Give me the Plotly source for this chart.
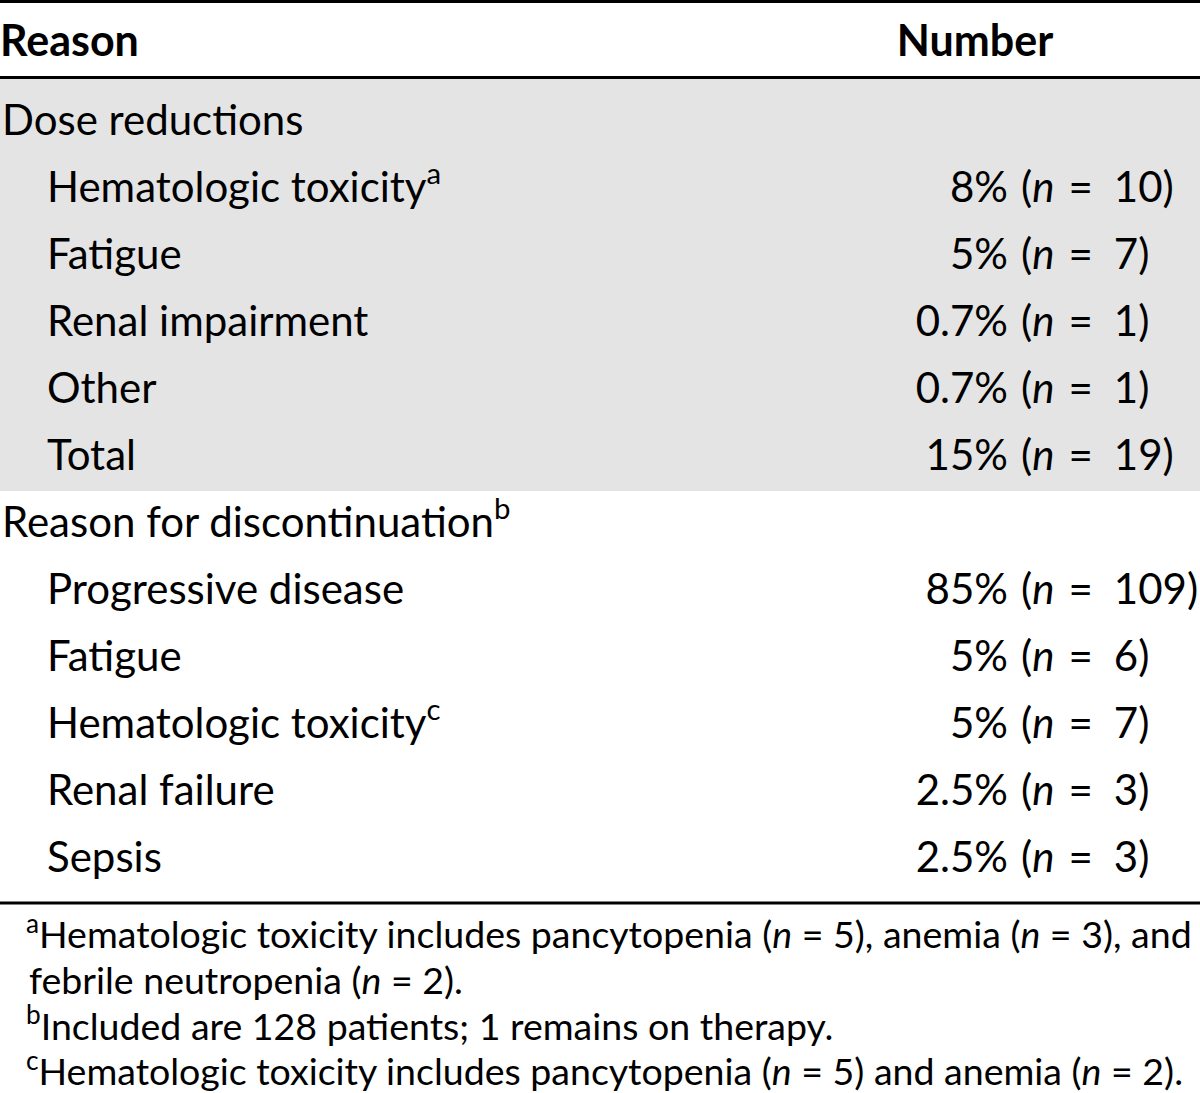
import plotly.graph_objects as go

# ---------------- data ----------------
header_labels = ["Reason", "Number"]

section1_title = "Dose reductions"
section1_labels = ["Hematologic toxicity<sup>a</sup>", "Fatigue", "Renal impairment", "Other", "Total"]
section1_pct = ["8%", "5%", "0.7%", "0.7%", "15%"]
section1_n = [10, 7, 1, 1, 19]

section2_title = "Reason for discontinuation<sup>b</sup>"
section2_labels = ["Progressive disease", "Fatigue", "Hematologic toxicity<sup>c</sup>", "Renal failure", "Sepsis"]
section2_pct = ["85%", "5%", "5%", "2.5%", "2.5%"]
section2_n = [109, 6, 7, 3, 3]

footnotes = [
    "<sup>a</sup>Hematologic toxicity includes pancytopenia (<i>n</i> = 5), anemia (<i>n</i> = 3), and",
    "febrile neutropenia (<i>n</i> = 2).",
    "<sup>b</sup>Included are 128 patients; 1 remains on therapy.",
    "<sup>c</sup>Hematologic toxicity includes pancytopenia (<i>n</i> = 5) and anemia (<i>n</i> = 2).",
]

# ---------------- layout constants ----------------
W, H = 1200, 1093
FONT = "Lato, 'Open Sans', sans-serif"
BODY = 42
HEAD = 43
FOOT = 37.5
ROW0_Y = 124
PITCH = 67
HEADER_Y = 45
X_SECTION = 2
X_ITEM = 47
X_PCT_END = 1008
X_N_START = 1021
FOOT_Y0 = 939
FOOT_PITCH = 45.7
SP1 = "\u2004"
SP2 = "\u2002"

# build rows from the data
row_labels, row_x, row_pct, row_n = [], [], [], []
for title, labels, pcts, ns in [
    (section1_title, section1_labels, section1_pct, section1_n),
    (section2_title, section2_labels, section2_pct, section2_n),
]:
    row_labels.append(title); row_x.append(X_SECTION); row_pct.append(""); row_n.append(None)
    for lab, p, n in zip(labels, pcts, ns):
        row_labels.append(lab); row_x.append(X_ITEM); row_pct.append(p); row_n.append(n)

row_y = [ROW0_Y + i * PITCH for i in range(len(row_labels))]
n_text = ["" if n is None else f"(<i>n</i>{SP1}={SP2}{n})" for n in row_n]

fig = go.Figure()

# header
fig.add_trace(go.Scatter(
    x=[0], y=[HEADER_Y], text=[f"<b>{header_labels[0]}</b>"], mode="text",
    textposition="middle right", textfont=dict(family=FONT, size=HEAD, color="black"),
    hoverinfo="skip", showlegend=False))
fig.add_trace(go.Scatter(
    x=[975], y=[HEADER_Y], text=[f"<b>{header_labels[1]}</b>"], mode="text",
    textposition="middle center", textfont=dict(family=FONT, size=HEAD, color="black"),
    hoverinfo="skip", showlegend=False))

# row labels
fig.add_trace(go.Scatter(
    x=row_x, y=row_y, text=row_labels, mode="text", textposition="middle right",
    textfont=dict(family=FONT, size=BODY, color="black"), hoverinfo="skip", showlegend=False))
# percentages (right aligned)
fig.add_trace(go.Scatter(
    x=[X_PCT_END] * len(row_y), y=row_y, text=row_pct, mode="text", textposition="middle left",
    textfont=dict(family=FONT, size=BODY, color="black"), hoverinfo="skip", showlegend=False))
# (n = x) part
fig.add_trace(go.Scatter(
    x=[X_N_START] * len(row_y), y=row_y, text=n_text, mode="text", textposition="middle right",
    textfont=dict(family=FONT, size=BODY, color="black"), hoverinfo="skip", showlegend=False))

# footnotes
foot_x = [26, 29, 26, 26]
fig.add_trace(go.Scatter(
    x=foot_x, y=[FOOT_Y0 + j * FOOT_PITCH for j in range(len(footnotes))], text=footnotes,
    mode="text", textposition="middle right",
    textfont=dict(family=FONT, size=FOOT, color="black"), hoverinfo="skip", showlegend=False))

# shading & rules
shapes = [
    dict(type="rect", xref="x", yref="y", x0=0, x1=W, y0=79, y1=491,
         fillcolor="#e4e4e4", line=dict(width=0), layer="below"),
    dict(type="line", xref="x", yref="y", x0=0, x1=W, y0=1.5, y1=1.5, line=dict(color="black", width=3)),
    dict(type="line", xref="x", yref="y", x0=0, x1=W, y0=77.5, y1=77.5, line=dict(color="black", width=3)),
    dict(type="line", xref="x", yref="y", x0=0, x1=W, y0=903, y1=903, line=dict(color="black", width=3)),
]

fig.update_layout(
    width=W, height=H, margin=dict(l=0, r=0, t=0, b=0),
    paper_bgcolor="white", plot_bgcolor="white",
    xaxis=dict(range=[0, W], visible=False, fixedrange=True),
    yaxis=dict(range=[H, 0], visible=False, fixedrange=True),
    shapes=shapes, showlegend=False,
)

fig.write_html(
    "out.html",
    config={"displayModeBar": False},
    post_script="document.body.style.margin='0';document.body.style.overflow='hidden';",
)
